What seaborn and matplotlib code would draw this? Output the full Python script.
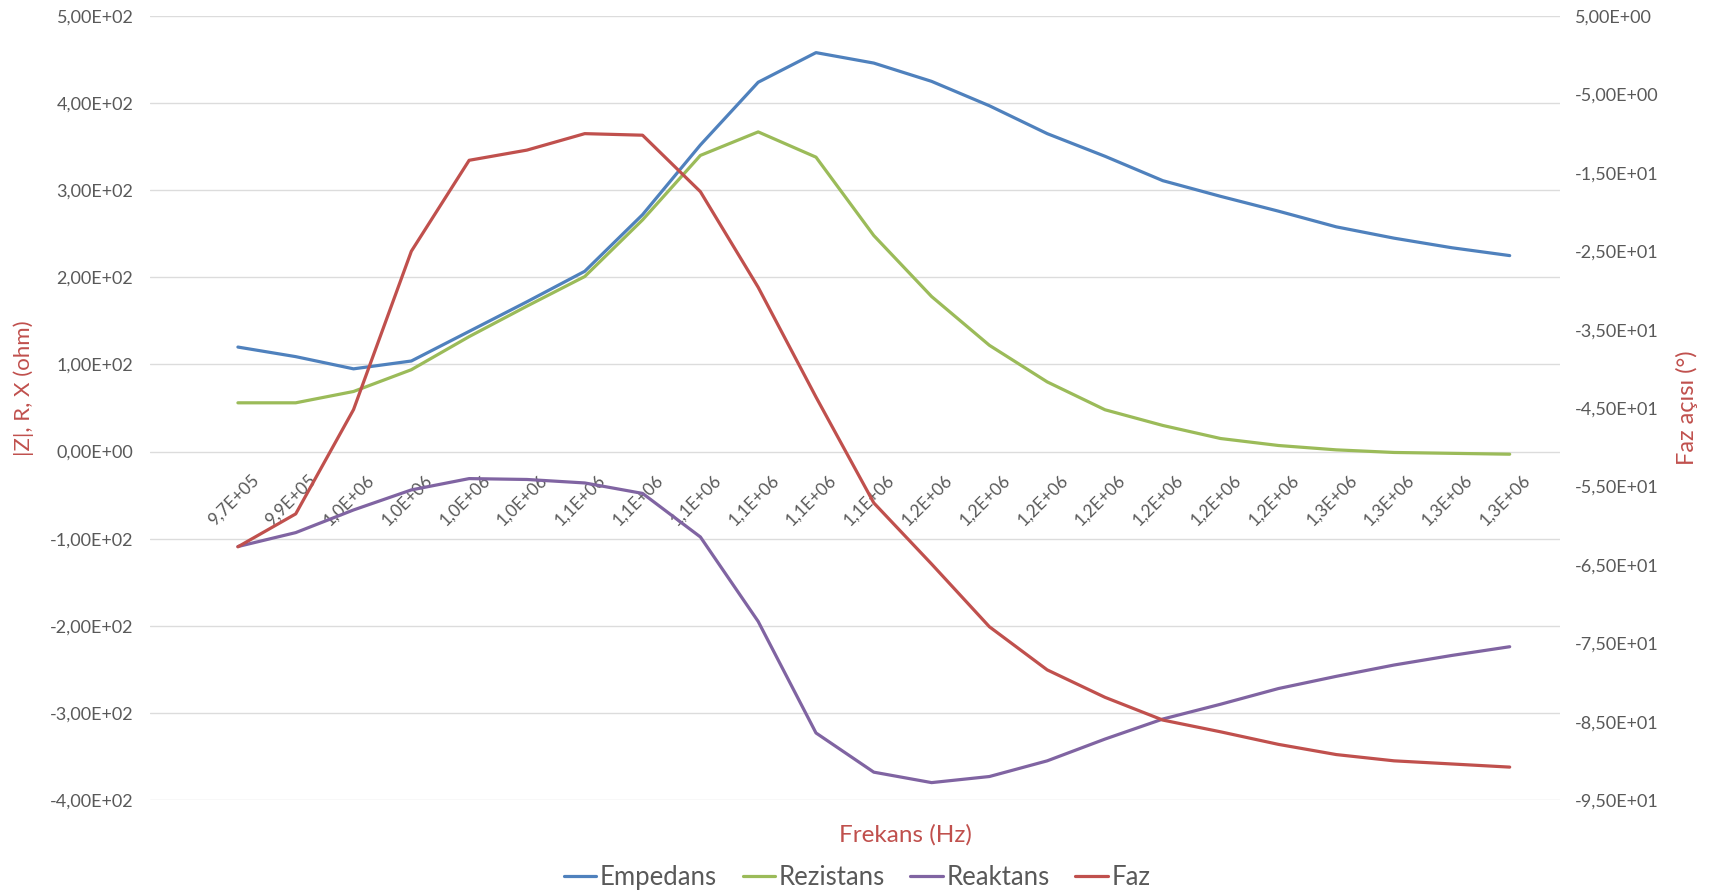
import matplotlib
matplotlib.use("Agg")
import matplotlib.pyplot as plt
import matplotlib.transforms as mtransforms
from matplotlib.lines import Line2D
import pandas as pd
import seaborn as sns

# Frequency categories (Hz), as shown on the category axis
freq_labels = ["9,7E+05", "9,9E+05",
               "1,0E+06", "1,0E+06", "1,0E+06", "1,0E+06",
               "1,1E+06", "1,1E+06", "1,1E+06", "1,1E+06", "1,1E+06", "1,1E+06",
               "1,2E+06", "1,2E+06", "1,2E+06", "1,2E+06", "1,2E+06", "1,2E+06", "1,2E+06",
               "1,3E+06", "1,3E+06", "1,3E+06", "1,3E+06"]

# |Z|, R, X in ohm
empedans = [120, 109, 95, 104, 138, 172, 207, 272, 352, 424, 458, 446, 425,
            397, 365, 339, 311, 293, 276, 258, 245, 234, 225]
rezistans = [56, 56, 69, 94, 132, 167, 201, 266, 340, 367, 338, 248, 178,
             122, 80, 48, 30, 15, 7, 2, -1, -2, -3]
reaktans = [-109, -93, -67, -44, -31, -32, -36, -48, -98, -195, -323, -368, -380,
            -373, -355, -330, -307, -290, -272, -258, -245, -234, -224]
# Phase angle in degrees (secondary axis)
faz = [-62.7, -58.5, -45.2, -25.0, -13.4, -12.1, -10.0, -10.2, -17.4, -29.6, -43.6,
       -57.1, -64.9, -72.9, -78.4, -81.9, -84.8, -86.3, -87.9, -89.2, -90.0, -90.4, -90.8]

left_ticks = [500, 400, 300, 200, 100, 0, -100, -200, -300, -400]
left_tick_labels = ["5,00E+02", "4,00E+02", "3,00E+02", "2,00E+02", "1,00E+02",
                    "0,00E+00", "-1,00E+02", "-2,00E+02", "-3,00E+02", "-4,00E+02"]
right_ticks = [5, -5, -15, -25, -35, -45, -55, -65, -75, -85, -95]
right_tick_labels = ["5,00E+00", "-5,00E+00", "-1,50E+01", "-2,50E+01", "-3,50E+01",
                     "-4,50E+01", "-5,50E+01", "-6,50E+01", "-7,50E+01", "-8,50E+01",
                     "-9,50E+01"]

series_names = ["Empedans", "Rezistans", "Reaktans", "Faz"]
colors = {"Empedans": "#4F81BD", "Rezistans": "#9BBB59",
          "Reaktans": "#8064A2", "Faz": "#C0504D"}
title_color = "#C0504D"
text_color = "#595959"
grid_color = "#DCDCDC"

sns.set_style("white")
plt.rcParams["font.family"] = ["Lato", "DejaVu Sans"]

n = len(freq_labels)
df = pd.DataFrame({"idx": list(range(n)), "Empedans": empedans,
                   "Rezistans": rezistans, "Reaktans": reaktans, "Faz": faz})
long_df = df.melt(id_vars="idx", value_vars=["Empedans", "Rezistans", "Reaktans"],
                  var_name="seri", value_name="deger")

fig = plt.figure(figsize=(17.09, 8.96), dpi=100)
ax = fig.add_axes([0.0878, 0.1071, 0.8250, 0.8750])
ax2 = ax.twinx()

sns.lineplot(data=long_df, x="idx", y="deger", hue="seri",
             hue_order=["Empedans", "Rezistans", "Reaktans"],
             palette=colors, linewidth=2.3, ax=ax, legend=False, sort=False)
sns.lineplot(data=df, x="idx", y="Faz", color=colors["Faz"], linewidth=2.3,
             ax=ax2, legend=False, sort=False)

# primary axis
ax.set_xlim(-1.52, 22.87)
ax.set_ylim(-400, 500)
ax.set_yticks(left_ticks)
ax.set_yticklabels(left_tick_labels, fontsize=13, color=text_color)
ax.yaxis.grid(True, color=grid_color, linewidth=1.0)
ax.xaxis.grid(False)
for s in ax.spines.values():
    s.set_visible(False)
ax.spines["bottom"].set_position(("data", 0))
ax.tick_params(axis="y", length=0, pad=12)

ax.set_xticks(list(range(n)))
ax.set_xticklabels(freq_labels, rotation=45, ha="right", va="center",
                   rotation_mode="anchor", fontsize=12.5, color=text_color)
ax.tick_params(axis="x", length=0, pad=18.5)
shift = mtransforms.ScaledTranslation(13 / 72, 0, fig.dpi_scale_trans)
for lab in ax.get_xticklabels():
    lab.set_transform(lab.get_transform() + shift)

ax.set_xlabel("Frekans (Hz)", fontsize=17.5, color=title_color)
ax.xaxis.set_label_coords(0.5355, -0.045)
ax.xaxis.label.set_va("center")
ax.set_ylabel("|Z|, R, X (ohm)", fontsize=16, color=title_color)
ax.yaxis.set_label_coords(-0.0894, 0.525)
ax.yaxis.label.set_va("center")

# secondary axis (phase)
ax2.set_ylim(-95, 5)
ax2.set_yticks(right_ticks)
ax2.set_yticklabels(right_tick_labels, fontsize=13, color=text_color)
ax2.tick_params(axis="y", length=0, pad=11)
ax2.grid(False)
for s in ax2.spines.values():
    s.set_visible(False)
ax2.set_ylabel("Faz açısı (°)", fontsize=17, color=title_color, rotation=90)
ax2.yaxis.set_label_coords(1.090, 0.501)
ax2.yaxis.label.set_va("center")

handles = [Line2D([0], [0], color=colors[k], linewidth=2.3) for k in series_names]
fig.legend(handles, series_names, loc="center", bbox_to_anchor=(0.5015, 0.0212),
           ncol=4, frameon=False, fontsize=18.5, handlelength=1.25,
           handletextpad=0.15, columnspacing=1.0, labelcolor=text_color)

fig.savefig("out.png", dpi=100, facecolor="white")
